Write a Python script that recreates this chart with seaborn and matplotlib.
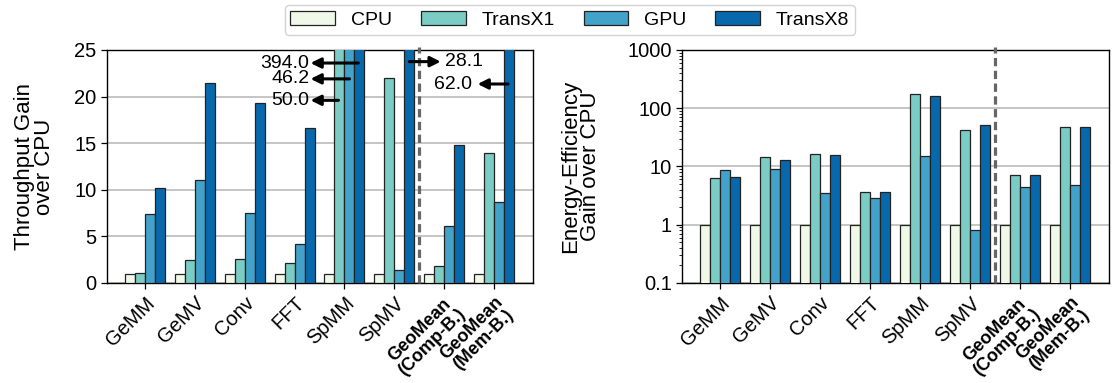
import numpy as np
import pandas as pd
import matplotlib
matplotlib.use("Agg")
import matplotlib.pyplot as plt
import seaborn as sns

# Benchmarks and platforms
categories = ["GeMM", "GeMV", "Conv", "FFT", "SpMM", "SpMV",
              "GeoMean\n(Comp-B.)", "GeoMean\n(Mem-B.)"]
platforms = ["CPU", "TransX1", "GPU", "TransX8"]
colors = ["#f0f9e8", "#7bccc4", "#43a2ca", "#0868ac"]

# Throughput gain over CPU
thr_cpu = [1.0, 1.0, 1.0, 1.0, 1.0, 1.0, 1.0, 1.0]
thr_transx1 = [1.1, 2.5, 2.55, 2.1, 50.0, 22.0, 1.8, 13.9]
thr_gpu = [7.4, 11.0, 7.55, 4.2, 46.2, 1.4, 6.15, 8.7]
thr_transx8 = [10.2, 21.5, 19.3, 16.6, 394.0, 28.1, 14.8, 62.0]

# Energy-efficiency gain over CPU
eff_cpu = [1.0, 1.0, 1.0, 1.0, 1.0, 1.0, 1.0, 1.0]
eff_transx1 = [6.3, 14.3, 16.3, 3.6, 174.0, 42.6, 7.2, 46.7]
eff_gpu = [8.8, 9.0, 3.5, 2.86, 15.1, 0.81, 4.5, 4.86]
eff_transx8 = [6.6, 13.0, 15.7, 3.6, 163.0, 50.6, 7.2, 46.7]


def long_frame(series):
    rows = []
    for plat, vals in zip(platforms, series):
        for cat, v in zip(categories, vals):
            rows.append({"Benchmark": cat, "Platform": plat, "Gain": v})
    return pd.DataFrame(rows)


thr_df = long_frame([thr_cpu, thr_transx1, thr_gpu, thr_transx8])
eff_df = long_frame([eff_cpu, eff_transx1, eff_gpu, eff_transx8])

sns.set_style("ticks")
plt.rcParams["font.family"] = ["Liberation Sans", "DejaVu Sans"]
plt.rcParams["font.size"] = 14
for key in ("text.color", "axes.labelcolor", "xtick.color", "ytick.color"):
    plt.rcParams[key] = "black"

TICK_FS = 14.5
LABEL_FS = 16
NOTE_FS = 14

fig = plt.figure(figsize=(11.15, 3.83), dpi=100)
ax1 = fig.add_axes([0.096, 0.2611, 0.382, 0.6084])
ax2 = fig.add_axes([0.6117, 0.2611, 0.3829, 0.6084])

palette = dict(zip(platforms, colors))
for ax, df in ((ax1, thr_df), (ax2, eff_df)):
    sns.barplot(data=df, x="Benchmark", y="Gain", hue="Platform",
                hue_order=platforms, order=categories, palette=palette,
                saturation=1, width=0.8, edgecolor="#222222", linewidth=0.9,
                legend=False, ax=ax, zorder=3)
    ax.set_xlim(-0.76, 7.78)
    ax.set_xlabel("")
    ax.grid(axis="y", color="#b5b5b5", linewidth=1.1, zorder=0)
    ax.set_axisbelow(True)
    for s in ax.spines.values():
        s.set_color("black")
        s.set_linewidth(1.0)
        s.set_visible(True)
    ax.tick_params(axis="both", labelsize=TICK_FS, length=4, width=0.9,
                   color="black", direction="out")
    ax.set_xticks(range(len(categories)))
    ax.set_xticklabels(categories, rotation=45, ha="right",
                       rotation_mode="anchor")
    for lbl in ax.get_xticklabels()[6:]:
        lbl.set_fontweight("bold")
        lbl.set_fontsize(13)
        lbl.set_multialignment("center")
        lbl.set_linespacing(1.0)
    ax.axvline(5.5, ymin=0, ymax=1.012, color="#666666",
               linestyle=(0, (2.6, 1.4)), linewidth=2.3, clip_on=False,
               zorder=5)

# Throughput panel
ax1.set_ylim(0, 25)
ax1.set_yticks([0, 5, 10, 15, 20, 25])
ax1.set_ylabel("Throughput Gain\nover CPU", fontsize=LABEL_FS,
               linespacing=0.95)
ax1.yaxis.set_label_coords(-0.122, 0.5)

arrow = dict(arrowstyle="-|>", color="black", lw=2.2, mutation_scale=15,
             shrinkA=0, shrinkB=0)
# Off-scale SpMM values (TransX8, GPU, TransX1)
spmm_labels = [(thr_transx8[4], 4.28, 23.6), (thr_gpu[4], 4.10, 21.9),
               (thr_transx1[4], 3.88, 19.6)]
for val, tail_x, y in spmm_labels:
    ax1.annotate("", xy=(3.32, y), xytext=(tail_x, y), arrowprops=arrow,
                 zorder=6)
    ax1.text(3.30, y, f"{val:.1f}", ha="right", va="center",
             fontsize=NOTE_FS, zorder=6)
# Off-scale SpMV TransX8
ax1.annotate("", xy=(5.93, 23.75), xytext=(5.30, 23.75), arrowprops=arrow,
             zorder=6)
ax1.text(6.02, 23.75, f"{thr_transx8[5]:.1f}", ha="left", va="center",
         fontsize=NOTE_FS, zorder=6)
# Off-scale Mem-B. TransX8
ax1.annotate("", xy=(6.67, 21.35), xytext=(7.28, 21.35), arrowprops=arrow,
             zorder=6)
ax1.text(6.56, 21.35, f"{thr_transx8[7]:.1f}", ha="right", va="center",
         fontsize=NOTE_FS, zorder=6)

# Energy-efficiency panel
ax2.set_yscale("log")
ax2.set_ylim(0.1, 1000)
ax2.set_yticks([0.1, 1, 10, 100, 1000])
ax2.set_yticklabels(["0.1", "1", "10", "100", "1000"])
ax2.tick_params(axis="y", which="minor", length=2, width=0.6, color="black")
ax2.set_ylabel("Energy-Efficiency\nGain over CPU", fontsize=LABEL_FS,
               linespacing=0.95)
ax2.yaxis.set_label_coords(-0.19, 0.5)

# Shared legend
handles = [matplotlib.patches.Patch(facecolor=c, edgecolor="#222222",
                                    linewidth=0.9) for c in colors]
leg = fig.legend(handles, platforms, loc="center", ncol=4,
                 bbox_to_anchor=(0.511, 0.948), fontsize=14,
                 handlelength=2.3, handleheight=0.75, handletextpad=0.8,
                 columnspacing=1.5, frameon=True, fancybox=True,
                 borderpad=0.3)
leg.get_frame().set_edgecolor("#c8c8c8")
leg.get_frame().set_linewidth(1.0)

fig.savefig("out.png", dpi=100)
